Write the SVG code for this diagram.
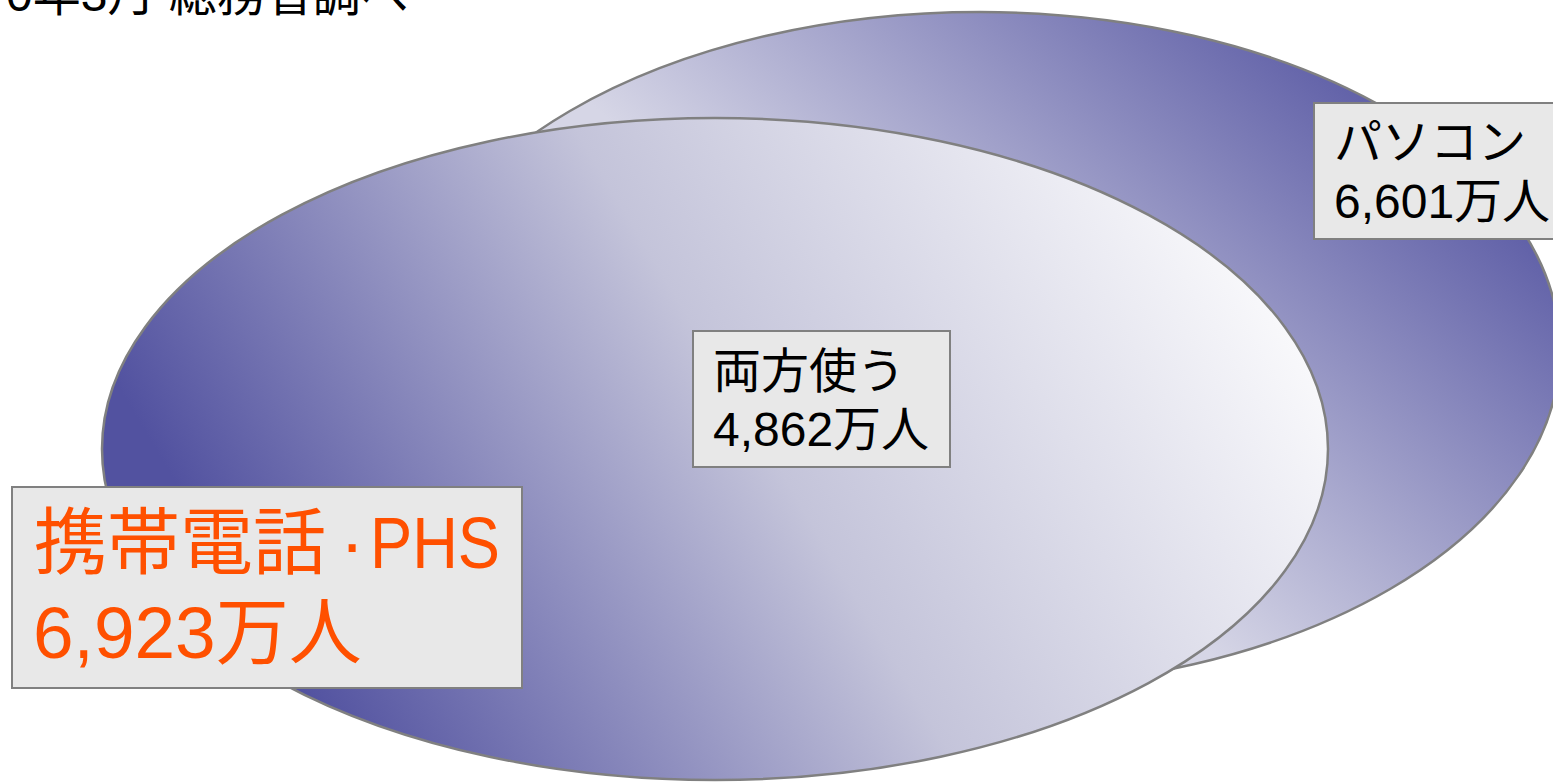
<svg xmlns="http://www.w3.org/2000/svg" width="1553" height="782" viewBox="0 0 1553 782">
  <defs>
    <style>
      .lbl { font-family: "Liberation Sans", "Noto Sans CJK JP", sans-serif; }
      .box { fill: #e8e8e8; stroke: #808080; stroke-width: 2; }
      .ell { stroke: #808080; stroke-width: 2.5; }
    </style>
    <linearGradient id="gBack" gradientUnits="userSpaceOnUse" x1="1450" y1="80" x2="1060" y2="520">
      <stop offset="0" stop-color="#5252a0"/>
      <stop offset="1" stop-color="#d6d6e6"/>
    </linearGradient>
    <linearGradient id="gFront" gradientUnits="userSpaceOnUse" x1="1230" y1="200" x2="330" y2="740">
      <stop offset="0" stop-color="#fafafc"/>
      <stop offset="0.5" stop-color="#c4c4da"/>
      <stop offset="1" stop-color="#5252a0"/>
    </linearGradient>
  </defs>

  <text class="lbl" x="6" y="11" font-size="48" fill="#000000">0年3月 総務省調べ</text>

  <g id="node-pc-set">
    <ellipse class="ell" cx="980" cy="350" rx="580" ry="338" fill="url(#gBack)"/>
  </g>
  <g id="node-mobile-set">
    <ellipse class="ell" cx="715" cy="449" rx="613" ry="331" fill="url(#gFront)"/>
  </g>

  <g id="connectors"></g>

  <g id="node-pc">
    <rect class="box" x="1314" y="103" width="250" height="136"/>
    <text class="lbl" font-size="48" fill="#000000">
      <tspan x="1334" y="159">パソコン</tspan>
      <tspan x="1334" y="218">6,601万人</tspan>
    </text>
  </g>

  <g id="node-both">
    <rect class="box" x="693" y="331" width="257" height="136"/>
    <text class="lbl" font-size="48" fill="#000000">
      <tspan x="713" y="388">両方使う</tspan>
      <tspan x="713" y="446">4,862万人</tspan>
    </text>
  </g>

  <g id="node-mobile">
    <rect class="box" x="12" y="487" width="510" height="201"/>
    <text class="lbl" font-size="73" fill="#ff5000">
      <tspan x="34" y="568">携帯電話</tspan><tspan x="340" y="568">·</tspan><tspan x="370" y="568" textLength="130" lengthAdjust="spacingAndGlyphs">PHS</tspan>
      <tspan x="33" y="658">6,923万人</tspan>
    </text>
  </g>
</svg>
